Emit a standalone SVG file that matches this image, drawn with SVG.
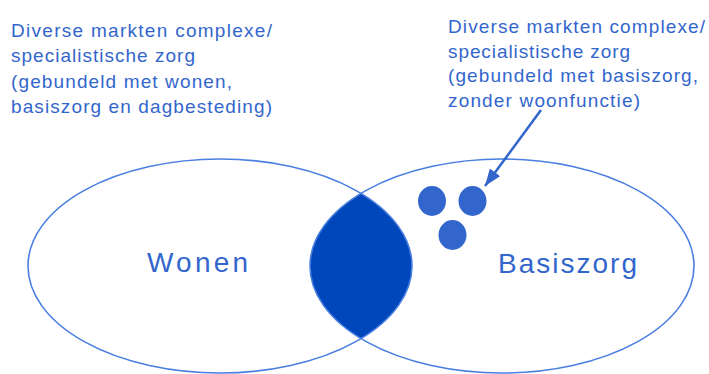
<svg xmlns="http://www.w3.org/2000/svg" width="709" height="374" viewBox="0 0 709 374">
  <style>
    .label { font-family: "Liberation Sans", Arial, sans-serif; fill: #3366cc; }
    .note { font-size: 19px; }
    .big { font-size: 28px; }
    .ring { fill: none; stroke: #4a7ee0; stroke-width: 1.6; }
    .dot { fill: #3366cc; }
  </style>
  <defs>
    <marker id="head" markerUnits="userSpaceOnUse" markerWidth="17" markerHeight="13" refX="17" refY="6.5" orient="auto">
      <path d="M0,0 L17,6.5 L0,13 z" fill="#3366cc"/>
    </marker>
  </defs>
  <rect width="709" height="374" fill="#ffffff"/>

  <!-- overlap of the two sets -->
  <g id="overlap">
    <path d="M361,193.4 A192,107 0 0 0 361,338.6 A192,107 0 0 0 361,193.4 Z" fill="#0047bb"/>
  </g>

  <g id="wonen">
    <ellipse class="ring" cx="220" cy="266" rx="192" ry="107"/>
    <text class="label big" x="147" y="272" textLength="101" lengthAdjust="spacing">Wonen</text>
  </g>

  <g id="basiszorg">
    <ellipse class="ring" cx="502" cy="266" rx="192" ry="107"/>
    <text class="label big" x="498" y="273" textLength="139" lengthAdjust="spacing">Basiszorg</text>
  </g>

  <g id="markets">
    <ellipse class="dot" cx="432" cy="201" rx="14" ry="15"/>
    <ellipse class="dot" cx="472.5" cy="201" rx="14" ry="15"/>
    <ellipse class="dot" cx="452.5" cy="235" rx="14" ry="15"/>
  </g>

  <g id="note-left">
    <text class="label note" x="11" y="37" textLength="261" lengthAdjust="spacing">Diverse markten complexe/</text>
    <text class="label note" x="11" y="62" textLength="184" lengthAdjust="spacing">specialistische zorg</text>
    <text class="label note" x="11" y="88" textLength="221" lengthAdjust="spacing">(gebundeld met wonen,</text>
    <text class="label note" x="11" y="113" textLength="261" lengthAdjust="spacing">basiszorg en dagbesteding)</text>
  </g>

  <g id="note-right">
    <text class="label note" x="448" y="33" textLength="257" lengthAdjust="spacing">Diverse markten complexe/</text>
    <text class="label note" x="448" y="58" textLength="182" lengthAdjust="spacing">specialistische zorg</text>
    <text class="label note" x="448" y="82" textLength="250" lengthAdjust="spacing">(gebundeld met basiszorg,</text>
    <text class="label note" x="448" y="107" textLength="192" lengthAdjust="spacing">zonder woonfunctie)</text>
  </g>

  <g id="connectors">
    <line x1="541" y1="110" x2="485" y2="186" stroke="#3366cc" stroke-width="2.5" marker-end="url(#head)"/>
  </g>
</svg>
